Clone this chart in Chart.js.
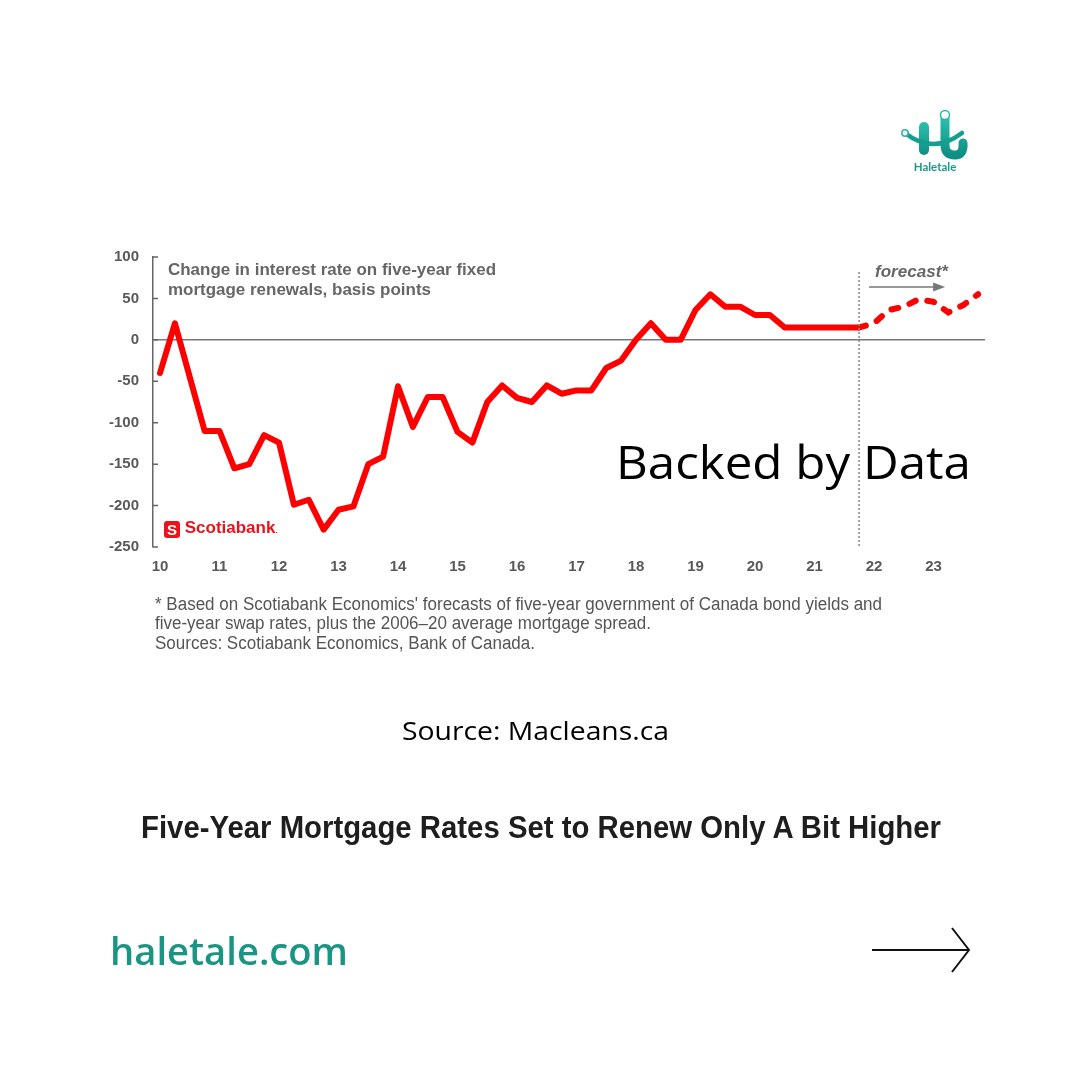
<!DOCTYPE html>
<html>
<head>
<meta charset="utf-8">
<script src="https://cdn.jsdelivr.net/npm/chart.js@4.4.1/dist/chart.umd.min.js"></script>
<style>
  html, body { margin: 0; padding: 0; background: #fff; }
  #wrap { position: relative; width: 1080px; height: 1080px; overflow: hidden; background: #fff; }
  #chart { position: absolute; left: 0; top: 0; }
  .t { position: absolute; white-space: nowrap; transform-origin: 0 0; }
  .note { font-family: "Liberation Sans", Arial, sans-serif; font-weight: bold; font-size: 16px; color: #666; }
  .foot { font-family: "Liberation Sans Narrow", "Liberation Sans", Arial, sans-serif; font-size: 18px; color: #555; }
</style>
</head>
<body>
<div id="wrap">
  <canvas id="chart" width="1080" height="1080"></canvas>

  <!-- logo -->
  <svg class="t" style="left:895px;top:105px" width="80" height="75" viewBox="0 0 80 75">
    <defs>
      <linearGradient id="tg" x1="0" y1="0" x2="0" y2="1">
        <stop offset="0" stop-color="#2cc0ae"/>
        <stop offset="1" stop-color="#0f8f83"/>
      </linearGradient>
    </defs>
    <rect x="24" y="17" width="10" height="33" rx="5" fill="url(#tg)"/>
    <path d="M50 12 L50 40 Q50 50 60 50 Q69 50 68 38" fill="none" stroke="url(#tg)" stroke-width="9" stroke-linecap="round"/>
    <circle cx="50" cy="10" r="4.5" fill="#fff" stroke="#27b8a8" stroke-width="1.5"/>
    <path d="M10 28 Q38 50 67 28" fill="none" stroke="#159d90" stroke-width="4.5" stroke-linecap="round"/>
    <circle cx="10" cy="28" r="3.2" fill="#fff" stroke="#27b8a8" stroke-width="1.5"/>
    <text x="40" y="66" text-anchor="middle" font-family="Lato, 'Open Sans', sans-serif" font-size="11.5" font-weight="bold" fill="#1a9a8c">Haletale</text>
  </svg>

  <div class="t note" data-w="328" style="left:168px;top:261px">Change in interest rate on five-year fixed</div>
  <div class="t note" data-w="263" style="left:168px;top:281px">mortgage renewals, basis points</div>
  <div class="t note" data-w="73" style="left:875px;top:263px;font-style:italic">forecast*</div>

  <div class="t" style="left:164px;top:518px;font-family:'Liberation Sans',Arial,sans-serif;font-weight:bold;color:#ec111a;font-size:17px">
    <span style="display:inline-block;width:16px;height:17px;border-radius:3px;background:#ec111a;color:#fff;font-size:15px;line-height:17px;text-align:center;vertical-align:-2px">S</span>&nbsp;Scotiabank<span style="font-size:8px">.</span>
  </div>

  <div class="t" data-w="355" style="left:616px;top:431px;font-family:'Open Sans',sans-serif;font-size:45px;color:#000">Backed by Data</div>

  <div class="t foot" data-w="727" style="left:155px;top:594px">* Based on Scotiabank Economics' forecasts of five-year government of Canada bond yields and</div>
  <div class="t foot" data-w="496" style="left:155px;top:613px">five-year swap rates, plus the 2006–20 average mortgage spread.</div>
  <div class="t foot" data-w="380" style="left:155px;top:633px">Sources: Scotiabank Economics, Bank of Canada.</div>

  <div class="t" data-w="267" style="left:402px;top:712px;font-family:'Open Sans',sans-serif;font-size:26px;color:#000">Source: Macleans.ca</div>

  <div class="t" data-w="800" style="left:141px;top:810px;font-family:'Liberation Sans Narrow','Liberation Sans',Arial,sans-serif;font-weight:bold;font-size:31px;color:#1e1e1e">Five-Year Mortgage Rates Set to Renew Only A Bit Higher</div>

  <div class="t" data-w="238" style="left:110px;top:925px;font-family:'Open Sans',sans-serif;font-weight:600;font-size:37px;color:#1a9483">haletale.com</div>

  <svg class="t" style="left:868px;top:920px" width="110" height="60">
    <path d="M4 30 L101 30 M84 8 L101 30 L84 52" fill="none" stroke="#111" stroke-width="2"/>
  </svg>
</div>

<script>
// Tick labels (years, 2-digit)
const yearTicks = [10, 11, 12, 13, 14, 15, 16, 17, 18, 19, 20, 21, 22, 23];

// Quarterly change in rate, Q1 2010 - Q4 2021 (basis points)
const actual = [
  -40, 20, -45, -110,
  -110, -155, -150, -115,
  -124, -199, -193, -229,
  -205, -201, -150, -141,
  -56, -105, -69, -69,
  -111, -124, -75, -55,
  -70, -75, -55, -65,
  -61, -61, -34, -25,
  0, 20, 0, 0,
  36, 55, 40, 40,
  30, 30, 15, 15,
  15, 15, 15, 15
];

// Forecast, Q4 2021 - Q4 2023
const forecast = [15, 20, 36, 40, 49, 46, 33, 42, 55];

const startYear = 2010;
const forecastStart = 2021.75;

const actualPts = actual.map((v, i) => ({ x: startYear + i / 4, y: v }));
const forecastPts = forecast.map((v, i) => ({ x: forecastStart + i / 4, y: v }));

// extra drawing: forecast divider, arrow, axis ticks
const extras = {
  id: "extras",
  afterDraw(chart) {
    const c = chart.ctx;
    const xs = chart.scales.x, ys = chart.scales.y;
    const xd = xs.getPixelForValue(forecastStart);
    c.save();
    c.strokeStyle = "#888";
    c.lineWidth = 1.5;
    c.setLineDash([2, 2]);
    c.beginPath();
    c.moveTo(xd, ys.top + 15);
    c.lineTo(xd, ys.bottom + 1);
    c.stroke();
    c.setLineDash([]);

    // forecast arrow
    c.strokeStyle = "#777";
    c.fillStyle = "#777";
    c.lineWidth = 1.5;
    c.beginPath();
    c.moveTo(xd + 10, 287);
    c.lineTo(xd + 76, 287);
    c.stroke();
    c.beginPath();
    c.moveTo(xd + 86, 287);
    c.lineTo(xd + 74, 282.5);
    c.lineTo(xd + 74, 291.5);
    c.closePath();
    c.fill();

    // small ticks on y axis
    c.strokeStyle = "#666";
    c.beginPath();
    ys.ticks.forEach(t => {
      const yp = ys.getPixelForValue(t.value);
      c.moveTo(xs.left, yp);
      c.lineTo(xs.left + 5, yp);
    });
    c.stroke();
    c.restore();
  }
};

new Chart(document.getElementById("chart"), {
  type: "line",
  data: {
    datasets: [
      {
        data: actualPts,
        borderColor: "#ff0000",
        borderWidth: 6,
        borderCapStyle: "round",
        borderJoinStyle: "round",
        pointRadius: 0,
        tension: 0
      },
      {
        data: forecastPts,
        borderColor: "#ff0000",
        borderWidth: 6,
        borderCapStyle: "round",
        borderDash: [7, 12],
        pointRadius: 0,
        tension: 0
      }
    ]
  },
  options: {
    responsive: false,
    animation: false,
    layout: { padding: { left: 93, right: 95, top: 257, bottom: 503 } },
    plugins: { legend: { display: false }, tooltip: { enabled: false } },
    scales: {
      x: {
        type: "linear",
        min: 2009.882,
        max: 2023.866,
        afterBuildTicks: s => { s.ticks = yearTicks.map(y => ({ value: 2000 + y })); },
        afterFit: s => { s.height = 30; },
        grid: { display: false, drawTicks: false },
        border: { display: false },
        ticks: {
          padding: 11,
          maxRotation: 0,
          autoSkip: false,
          color: "#595959",
          font: { family: "Liberation Sans", size: 15, weight: "bold" },
          callback: v => String(Math.round(v - 2000))
        }
      },
      y: {
        min: -250,
        max: 100,
        afterFit: s => { s.width = 60; },
        grid: {
          drawTicks: false,
          color: c => (c.tick && c.tick.value === 0 ? "#777" : "rgba(0,0,0,0)"),
          lineWidth: 1.5
        },
        border: { display: true, color: "#666", width: 1.5 },
        ticks: {
          stepSize: 50,
          padding: 14,
          color: "#595959",
          font: { family: "Liberation Sans", size: 15, weight: "bold" }
        }
      }
    }
  },
  plugins: [extras]
});

// squeeze/stretch text blocks to the measured widths
document.querySelectorAll("[data-w]").forEach(el => {
  const w = el.getBoundingClientRect().width;
  el.style.transform = "scaleX(" + (parseFloat(el.dataset.w) / w) + ")";
});
</script>
</body>
</html>
